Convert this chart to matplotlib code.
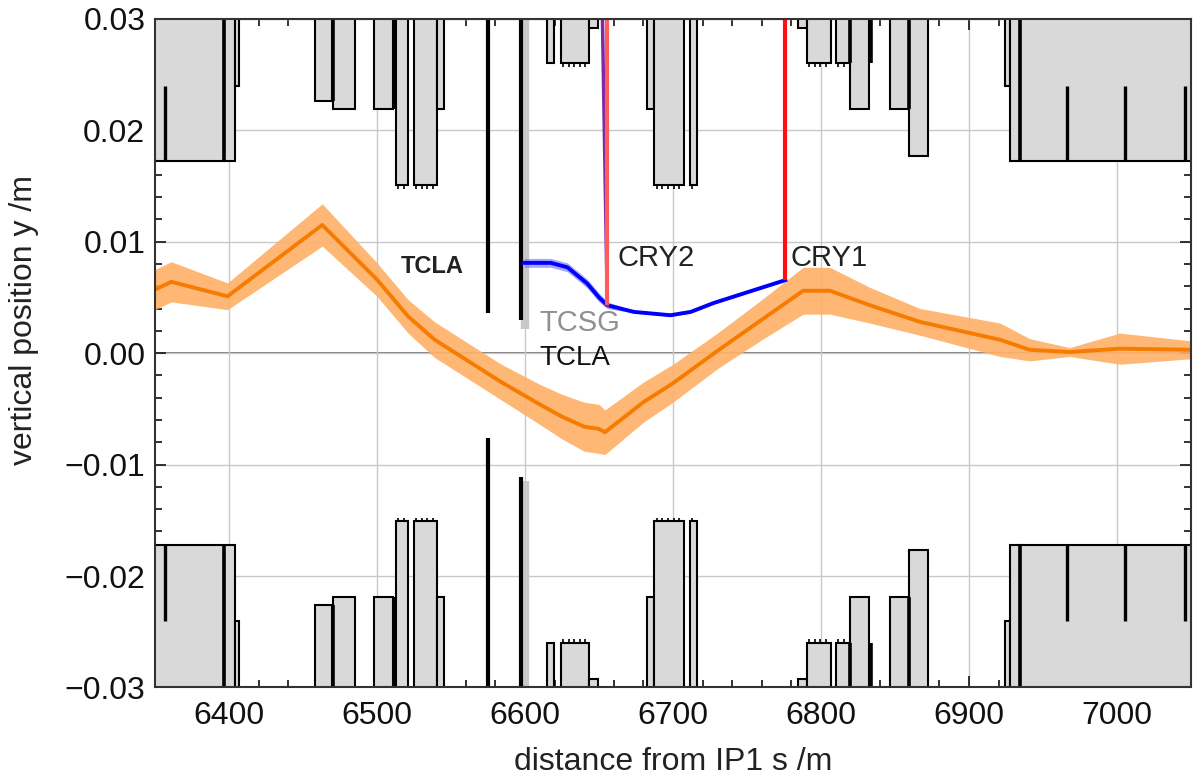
import numpy as np
import matplotlib
matplotlib.use("Agg")
import matplotlib.pyplot as plt
from matplotlib.ticker import MultipleLocator, FuncFormatter

plt.rcParams['font.family'] = ['Liberation Sans', 'DejaVu Sans']

# aperture elements (upper half, mirrored for lower half): start s, end s, half aperture
ap_s0 = [6340, 6396.7, 6403.8, 6457.8, 6470.5, 6497.8, 6512.9, 6524.8, 6540.5, 6615.2, 6624.1, 6643.2,
         6682.6, 6687.5, 6711.3, 6784.8, 6790.5, 6810.3, 6819.3, 6846.7, 6859.7, 6924.2, 6927.7, 6934.8]
ap_s1 = [6396.7, 6403.8, 6406.5, 6469.7, 6484.8, 6510.6, 6520.8, 6540.5, 6545.4, 6619.6, 6643.2, 6649.0,
         6687.5, 6707.3, 6716.3, 6790.5, 6806.7, 6819.3, 6832.7, 6859.7, 6872.1, 6927.7, 6934.8, 7060]
ap_a = [0.0172, 0.0172, 0.0240, 0.0226, 0.0219, 0.0219, 0.0151, 0.0151, 0.0219, 0.0260, 0.0260, 0.0292,
        0.0219, 0.0151, 0.0151, 0.0292, 0.0260, 0.0260, 0.0219, 0.0219, 0.0177, 0.0240, 0.0172, 0.0172]
ap_serr = [0, 0, 0, 0, 0, 0, 1, 1, 0, 0, 1, 0,
           0, 1, 1, 0, 1, 1, 0, 0, 0, 0, 0, 0]

# element boundary lines (thick) and internal lines
edge_s = [6396.7, 6470.1, 6511.2, 6819.3, 6833.5, 6859.7, 6934.8]
edge_a = [0.0172, 0.0226, 0.0219, 0.0260, 0.0260, 0.0219, 0.0172]
inner_s = [6357, 6966.3, 7005.6, 7046]

# collimator jaws: s, upper jaw, lower jaw
tcla_s = [6575.1, 6597.6]
tcla_up = [0.0036, 0.0030]
tcla_lo = [-0.0076, -0.0111]
tcsg_s = 6600.3
tcsg_up = 0.0022
tcsg_lo = -0.0115

# beam orbit with envelope
s_beam = [6350, 6361, 6399, 6463, 6500, 6521, 6539, 6584, 6610, 6625, 6640, 6650, 6654, 6680, 6700,
          6730, 6760, 6788, 6806, 6833, 6867, 6921, 6941, 6968, 7002, 7050]
y_beam = [0.0057, 0.0064, 0.0051, 0.0115, 0.0066, 0.0033, 0.0012, -0.0026, -0.0046, -0.0057, -0.0066,
          -0.0068, -0.0071, -0.0044, -0.0027, 0.0002, 0.0030, 0.0056, 0.0056, 0.0043, 0.0028, 0.0012,
          0.0003, 0.0001, 0.0004, 0.0003]
hw_beam = [0.0018, 0.0018, 0.0012, 0.0019, 0.0015, 0.0015, 0.0016, 0.0016, 0.0018, 0.0020, 0.0022,
           0.0022, 0.0020, 0.0018, 0.0017, 0.0016, 0.0018, 0.0021, 0.0021, 0.0016, 0.0012, 0.0015,
           0.0010, 0.0004, 0.0014, 0.0008]

# channeled beam
s_blue = [6599.4, 6617.4, 6628.7, 6642, 6650, 6655.6, 6673.6, 6698.3, 6712, 6727.5, 6775.9]
y_blue = [0.0081, 0.0081, 0.0077, 0.00625, 0.0050, 0.0043, 0.0037, 0.0034, 0.0037, 0.0045, 0.00655]
hw_blue = [0.0004, 0.0004, 0.0004, 0.0004, 0.0004, 0.0003, 0.0001, 0.0001, 0.0001, 0.0001, 0.0001]

cry2_s, cry2_y = 6655.6, 0.0043
cry1_s, cry1_y = 6775.9, 0.00655

fig = plt.figure(figsize=(11.96, 7.83), dpi=100)
ax = fig.add_axes([0.1296, 0.122, 0.8662, 0.854])

ax.set_xlim(6350, 7050)
ax.set_ylim(-0.03, 0.03)

ax.grid(True, which='major', color='#c8c8c8', lw=1.0, zorder=0)
ax.axhline(0, color='#7a7a7a', lw=1.4, zorder=1)

for s0, s1, a, serr in zip(ap_s0, ap_s1, ap_a, ap_serr):
    for sign in (1, -1):
        ax.fill([s0, s1, s1, s0], [sign * a, sign * a, sign * 0.031, sign * 0.031],
                facecolor='#d9d9d9', edgecolor='black', lw=1.5, zorder=2)
        if serr:
            xs = np.arange(s0 + 1.5, s1, 3.8)
            ax.vlines(xs, sign * a, sign * (a - 0.00035), color='black', lw=1.2, zorder=3)

for s, a in zip(edge_s, edge_a):
    ax.vlines(s, a, 0.031, color='black', lw=2.6, zorder=3)
    ax.vlines(s, -0.031, -a, color='black', lw=2.6, zorder=3)
for s in inner_s:
    ax.vlines(s, 0.0172, 0.024, color='black', lw=2.4, zorder=3)
    ax.vlines(s, -0.024, -0.0172, color='black', lw=2.4, zorder=3)

ax.vlines(tcsg_s, tcsg_up, 0.031, color='#c8c8c8', lw=6, zorder=3)
ax.vlines(tcsg_s, -0.031, tcsg_lo, color='#c8c8c8', lw=6, zorder=3)
for s, up, lo in zip(tcla_s, tcla_up, tcla_lo):
    ax.vlines(s, up, 0.031, color='black', lw=3, zorder=4)
    ax.vlines(s, -0.031, lo, color='black', lw=3, zorder=4)

ax.fill_between(s_beam, np.array(y_beam) - np.array(hw_beam), np.array(y_beam) + np.array(hw_beam),
                color='#ffb066', alpha=0.9, lw=0, zorder=5)
ax.plot(s_beam, y_beam, color='#f57c00', lw=2.8, zorder=6)

ax.fill_between(s_blue, np.array(y_blue) - np.array(hw_blue), np.array(y_blue) + np.array(hw_blue),
                color='#8080ff', alpha=0.7, lw=0, zorder=5)
ax.plot(s_blue, y_blue, color='#0000ff', lw=2.8, zorder=6)

ax.plot([cry2_s - 3.4, cry2_s], [0.031, cry2_y], color='#7a2aa8', lw=2.5, zorder=6)
ax.vlines(cry2_s, cry2_y, 0.031, color='#ff5c5c', lw=3, zorder=7)
ax.vlines(cry1_s, cry1_y, 0.031, color='#ff1010', lw=3, zorder=7)

ax.text(6537.6, 0.0078, 'TCLA', fontsize=17, fontweight='bold', color='#222222',
        ha='center', va='center', zorder=8)
ax.text(6609.5, 0.0027, 'TCSG', fontsize=21, color='#909090', ha='left', va='center', zorder=8)
ax.text(6609.5, -0.00045, 'TCLA', fontsize=20, color='#111111', ha='left', va='center', zorder=8)
ax.text(6662.4, 0.0085, 'CRY2', fontsize=21, color='#222222', ha='left', va='center', zorder=8)
ax.text(6779.2, 0.0085, 'CRY1', fontsize=21, color='#222222', ha='left', va='center', zorder=8)

ax.xaxis.set_major_locator(MultipleLocator(100))
ax.xaxis.set_minor_locator(MultipleLocator(20))
ax.yaxis.set_major_locator(MultipleLocator(0.01))
ax.yaxis.set_minor_locator(MultipleLocator(0.002))
ax.yaxis.set_major_formatter(FuncFormatter(lambda v, p: f"{v:.2f}".replace('-', '\u2212')))
ax.tick_params(which='both', direction='in', top=True, right=True, color='#222222', width=1.3)
ax.tick_params(which='major', length=8, labelsize=23, labelcolor='#111111')
ax.tick_params(which='minor', length=5)
ax.tick_params(axis='x', pad=10)
ax.tick_params(axis='y', pad=7)
for sp in ax.spines.values():
    sp.set_color('#333333')
    sp.set_linewidth(1.5)
    sp.set_zorder(9)

ax.set_xlabel('distance from IP1 s /m', fontsize=23, color='#222222', labelpad=11)
ax.set_ylabel('vertical position y /m', fontsize=23, color='#222222')
ax.yaxis.set_label_coords(-0.112, 0.55)

fig.savefig('out.png', dpi=100)
